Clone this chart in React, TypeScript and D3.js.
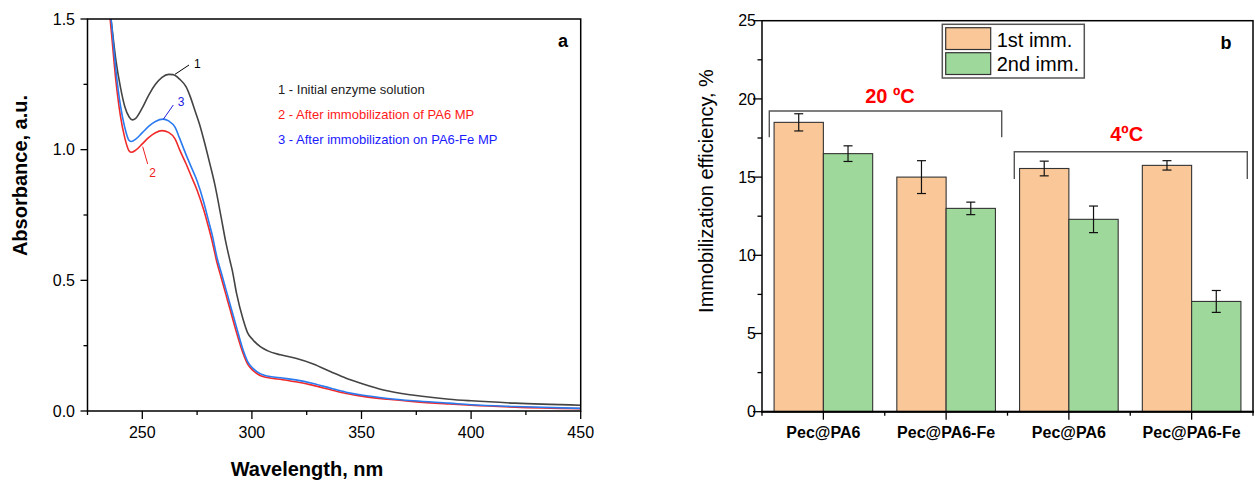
import React from "react";
import * as d3 from "d3";

// ---------- Panel a data ----------
const wlBlack = [233, 235, 236, 238, 240, 242, 244, 245.5, 247, 250, 253, 256, 259, 262, 264, 267, 270, 272, 274, 276, 278, 281, 283, 286, 288, 290, 291, 293, 296, 298, 300.5, 304, 307, 313, 320, 328, 336, 343, 350, 360, 374, 390, 400, 420, 450];
const absBlack = [1.7, 1.55, 1.48, 1.34, 1.24, 1.165, 1.125, 1.114, 1.12, 1.16, 1.21, 1.25, 1.277, 1.288, 1.287, 1.27, 1.24, 1.2, 1.15, 1.1, 1.04, 0.94, 0.87, 0.74, 0.65, 0.575, 0.54, 0.45, 0.35, 0.3, 0.272, 0.245, 0.231, 0.215, 0.202, 0.18, 0.15, 0.125, 0.105, 0.08, 0.06, 0.045, 0.039, 0.03, 0.022];

const wlBlue = [234, 236, 238, 240, 242, 244, 245, 247, 250, 253, 256, 259.5, 262, 265, 267, 270, 272, 275, 278, 280, 282, 284, 286, 288, 290, 293, 296, 298, 300.5, 304, 307, 314, 320, 328, 336, 343, 350, 362, 374, 390, 400, 420, 450];
const absBlue = [1.65, 1.48, 1.3, 1.17, 1.085, 1.035, 1.031, 1.04, 1.065, 1.09, 1.108, 1.117, 1.11, 1.085, 1.044, 0.98, 0.94, 0.88, 0.8, 0.735, 0.67, 0.59, 0.53, 0.47, 0.41, 0.32, 0.233, 0.19, 0.163, 0.142, 0.134, 0.126, 0.119, 0.105, 0.087, 0.072, 0.061, 0.048, 0.039, 0.03, 0.024, 0.017, 0.01];

const wlRed = [234, 236, 238, 240, 242, 244, 245, 247, 250, 253, 256, 259, 262, 265, 267, 270, 272, 275, 278, 280, 282, 284, 286, 288, 290, 293, 296, 298, 300.5, 304, 307, 314, 320, 328, 336, 343, 350, 362, 374, 390, 400, 420, 450];
const absRed = [1.62, 1.44, 1.26, 1.13, 1.045, 0.995, 0.99, 0.998, 1.022, 1.047, 1.065, 1.073, 1.066, 1.04, 1.0, 0.945, 0.905, 0.845, 0.77, 0.71, 0.645, 0.57, 0.51, 0.45, 0.39, 0.3, 0.22, 0.18, 0.155, 0.135, 0.128, 0.12, 0.112, 0.098, 0.081, 0.067, 0.057, 0.045, 0.036, 0.027, 0.022, 0.015, 0.009];

const xMajorA = [250, 300, 350, 400, 450];
const xMinorA = [225, 275, 325, 375, 425];
const yMajorA = [0, 0.5, 1.0, 1.5];
const yMinorA = [0.25, 0.75, 1.25];
const legendA = [
  "1 - Initial enzyme solution",
  "2 - After immobilization of PA6 MP",
  "3 - After immobilization on PA6-Fe MP",
];

// ---------- Panel b data ----------
const categories = ["Pec@PA6", "Pec@PA6-Fe", "Pec@PA6", "Pec@PA6-Fe"];
const seriesNames = ["1st imm.", "2nd imm."];
const firstImm = [18.5, 15.0, 15.55, 15.75];
const firstErr = [0.55, 1.05, 0.47, 0.3];
const secondImm = [16.5, 13.0, 12.3, 7.05];
const secondErr = [0.5, 0.4, 0.85, 0.7];
const yMajorB = [0, 5, 10, 15, 20, 25];
const yMinorB = [2.5, 7.5, 12.5, 17.5, 22.5];

const FONT = "'Liberation Sans', Arial, Helvetica, sans-serif";
const BLACK_LINE = "#444444";
const RED_LINE = "#f02a2a";
const BLUE_LINE = "#2a7af0";
const ORANGE = "#fac898";
const GREEN = "#9ed89b";

export default function App() {
  // Panel a scales
  const xa = d3.scaleLinear().domain([225, 450]).range([87.5, 580.7]);
  const ya = d3.scaleLinear().domain([0, 1.5]).range([411, 19]);
  const line = d3
    .line<[number, number]>()
    .x((d) => xa(d[0]))
    .y((d) => ya(d[1]))
    .curve(d3.curveMonotoneX);
  const series = [
    { wl: wlBlack, ab: absBlack, color: BLACK_LINE },
    { wl: wlRed, ab: absRed, color: RED_LINE },
    { wl: wlBlue, ab: absBlue, color: BLUE_LINE },
  ];

  // Panel b scales
  const idx = categories.map((_, i) => String(i));
  const xb = d3.scaleBand().domain(idx).range([762, 1253]).padding(0);
  const xInner = d3
    .scaleBand()
    .domain(seriesNames)
    .range([0, xb.bandwidth()])
    .paddingInner(0)
    .paddingOuter(0.245);
  const yb = d3.scaleLinear().domain([0, 25]).range([411.7, 20.7]);
  const barSeries = [
    { name: seriesNames[0], vals: firstImm, errs: firstErr, color: ORANGE },
    { name: seriesNames[1], vals: secondImm, errs: secondErr, color: GREEN },
  ];
  const boundaries = [...idx.map((k) => xb(k)!), 1253];

  return (
    <svg
      width={1255}
      height={484}
      style={{ position: "absolute", left: 0, top: 0, background: "#fff" }}
      fontFamily={FONT}
    >
      <defs>
        <clipPath id="clipA">
          <rect x={xa(225)} y={ya(1.5)} width={xa(450) - xa(225)} height={ya(0) - ya(1.5)} />
        </clipPath>
      </defs>

      {/* ===== Panel a ===== */}
      <g clipPath="url(#clipA)">
        {series.map((s, i) => (
          <path
            key={i}
            d={line(s.wl.map((w, j) => [w, s.ab[j]] as [number, number])) || ""}
            fill="none"
            stroke={s.color}
            strokeWidth={1.6}
          />
        ))}
      </g>
      <rect
        x={xa(225)}
        y={ya(1.5)}
        width={xa(450) - xa(225)}
        height={ya(0) - ya(1.5)}
        fill="none"
        stroke="#000"
        strokeWidth={1.5}
      />
      {xMajorA.map((t) => (
        <g key={"xma" + t}>
          <line x1={xa(t)} x2={xa(t)} y1={ya(0)} y2={ya(0) + 8} stroke="#000" strokeWidth={1.3} />
          <text x={xa(t)} y={438} textAnchor="middle" fontSize={16}>
            {t}
          </text>
        </g>
      ))}
      {xMinorA.map((t) => (
        <line key={"xmi" + t} x1={xa(t)} x2={xa(t)} y1={ya(0)} y2={ya(0) + 4} stroke="#000" strokeWidth={1.3} />
      ))}
      {yMajorA.map((t) => (
        <g key={"yma" + t}>
          <line x1={xa(225) - 7} x2={xa(225)} y1={ya(t)} y2={ya(t)} stroke="#000" strokeWidth={1.3} />
          <text x={75} y={ya(t)} dy="0.36em" textAnchor="end" fontSize={16}>
            {t.toFixed(1)}
          </text>
        </g>
      ))}
      {yMinorA.map((t) => (
        <line key={"ymi" + t} x1={xa(225) - 4} x2={xa(225)} y1={ya(t)} y2={ya(t)} stroke="#000" strokeWidth={1.3} />
      ))}
      <text
        transform="translate(27,175.5) rotate(-90)"
        textAnchor="middle"
        fontSize={20}
        fontWeight="bold"
      >
        Absorbance, a.u.
      </text>
      <text x={307} y={476} textAnchor="middle" fontSize={20} fontWeight="bold">
        Wavelength, nm
      </text>
      <text x={563} y={46.5} textAnchor="middle" fontSize={18} fontWeight="bold">
        a
      </text>
      {/* annotations */}
      <line x1={175} y1={74.3} x2={189} y2={65} stroke="#000" strokeWidth={1} />
      <text x={197.3} y={63.3} dy="0.35em" textAnchor="middle" fontSize={12} fill="#000">
        1
      </text>
      <line x1={163.3} y1={119.3} x2={173.3} y2={105} stroke="#2020e0" strokeWidth={1} />
      <text x={181} y={102} dy="0.35em" textAnchor="middle" fontSize={12} fill="#2020e0">
        3
      </text>
      <line x1={142.7} y1={146.7} x2={147.7} y2={164} stroke="#f02020" strokeWidth={1} />
      <text x={152.7} y={172.7} dy="0.35em" textAnchor="middle" fontSize={12} fill="#f02020">
        2
      </text>
      {legendA.map((t, i) => (
        <text
          key={t}
          x={278}
          y={94.4 + i * 24.7}
          fontSize={13}
          fill={["#222", "#ff1a1a", "#1a1aff"][i]}
        >
          {t}
        </text>
      ))}

      {/* ===== Panel b ===== */}
      {barSeries.map((s) =>
        s.vals.map((v, i) => {
          const x0 = xb(String(i))! + xInner(s.name)!;
          const w = xInner.bandwidth();
          const cx = x0 + w / 2;
          return (
            <g key={s.name + i}>
              <rect
                x={x0}
                y={yb(v)}
                width={w}
                height={yb(0) - yb(v)}
                fill={s.color}
                stroke="#333"
                strokeWidth={1.1}
              />
              <line x1={cx} x2={cx} y1={yb(v + s.errs[i])} y2={yb(v - s.errs[i])} stroke="#111" strokeWidth={1.2} />
              <line x1={cx - 4.5} x2={cx + 4.5} y1={yb(v + s.errs[i])} y2={yb(v + s.errs[i])} stroke="#111" strokeWidth={1.2} />
              <line x1={cx - 4.5} x2={cx + 4.5} y1={yb(v - s.errs[i])} y2={yb(v - s.errs[i])} stroke="#111" strokeWidth={1.2} />
            </g>
          );
        })
      )}
      <rect
        x={762}
        y={yb(25)}
        width={1253 - 762}
        height={yb(0) - yb(25)}
        fill="none"
        stroke="#000"
        strokeWidth={1.5}
      />
      <line x1={761} x2={1254} y1={yb(0)} y2={yb(0)} stroke="#000" strokeWidth={2} />
      {idx.map((k, i) => {
        const cx = xb(k)! + xb.bandwidth() / 2;
        return (
          <g key={"xb" + k}>
            <line x1={cx} x2={cx} y1={yb(0)} y2={yb(0) + 8} stroke="#000" strokeWidth={1.3} />
            <text x={cx} y={438} textAnchor="middle" fontSize={16} fontWeight="bold">
              {categories[i]}
            </text>
          </g>
        );
      })}
      {boundaries.map((b, i) => (
        <line key={"bd" + i} x1={b} x2={b} y1={yb(0)} y2={yb(0) + 4} stroke="#000" strokeWidth={1.3} />
      ))}
      {yMajorB.map((t) => (
        <g key={"ybm" + t}>
          <line x1={762 - 9} x2={762} y1={yb(t)} y2={yb(t)} stroke="#000" strokeWidth={1.3} />
          <text x={756} y={yb(t)} dy="0.36em" textAnchor="end" fontSize={16}>
            {t}
          </text>
        </g>
      ))}
      {yMinorB.map((t) => (
        <line key={"ybn" + t} x1={762 - 4.5} x2={762} y1={yb(t)} y2={yb(t)} stroke="#000" strokeWidth={1.3} />
      ))}
      <text
        transform="translate(713,191) rotate(-90)"
        textAnchor="middle"
        fontSize={20}
      >
        Immobilization efficiency, %
      </text>
      <text x={1226} y={49} textAnchor="middle" fontSize={18} fontWeight="bold">
        b
      </text>
      {/* legend */}
      <rect x={942.3} y={24.3} width={142} height={53.7} fill="#fff" stroke="#555" strokeWidth={1.5} />
      {barSeries.map((s, i) => (
        <g key={"lg" + i}>
          <rect x={945.7} y={27.7 + i * 25} width={45} height={21.8} fill={s.color} stroke="#333" strokeWidth={1.2} />
          <text x={996.7} y={47 + i * 24.3} fontSize={20}>
            {s.name}
          </text>
        </g>
      ))}
      {/* brackets */}
      <path d="M769.3,137.3 V111 H1001.7 V137.3" fill="none" stroke="#555" strokeWidth={1.4} />
      <path d="M1014.3,179 V151.7 H1247.3 V179" fill="none" stroke="#555" strokeWidth={1.4} />
      <text x={890} y={103} textAnchor="middle" fontSize={20} fontWeight="bold" fill="#ff0000">
        20 ºC
      </text>
      <text x={1126.7} y={140.5} textAnchor="middle" fontSize={20} fontWeight="bold" fill="#ff0000">
        4ºC
      </text>
    </svg>
  );
}
